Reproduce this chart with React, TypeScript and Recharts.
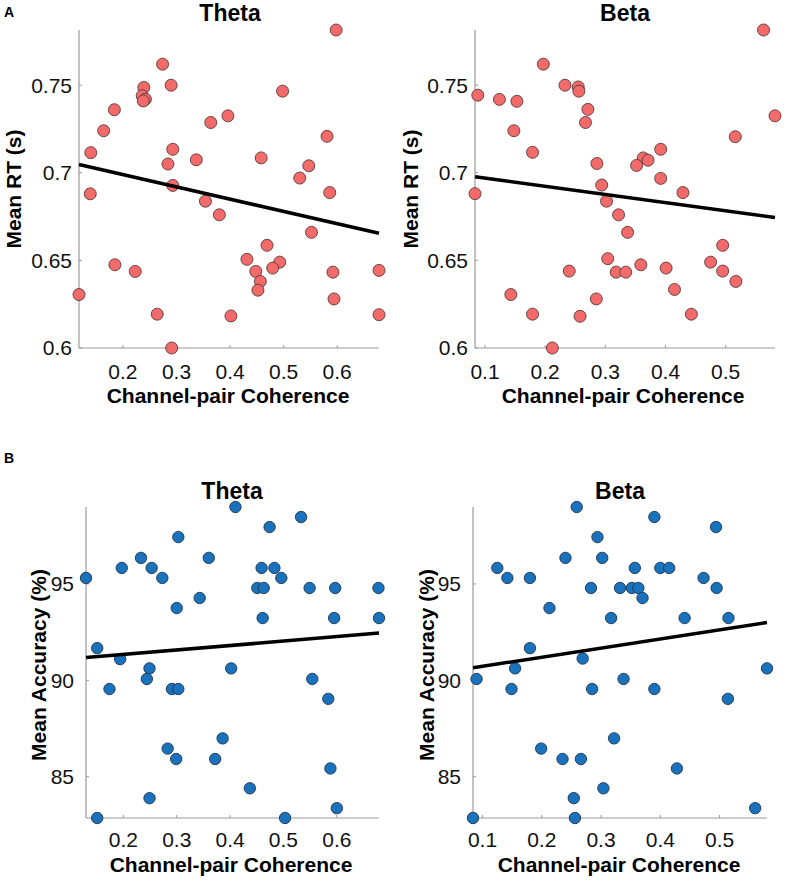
import { Scatter, ScatterChart, XAxis, YAxis } from "recharts"

const FONT = "'Liberation Sans', Arial, Helvetica, sans-serif"

// A: reaction time vs coherence
const rtThetaX = [
  0.598, 0.274, 0.239, 0.29, 0.236, 0.242, 0.238, 0.184, 0.164, 0.14, 0.139, 0.498, 0.364, 0.396,
  0.293, 0.284, 0.337, 0.293, 0.354, 0.38, 0.458, 0.581, 0.547, 0.53, 0.586, 0.552, 0.469, 0.4315,
  0.4927, 0.4796, 0.448, 0.4565, 0.452, 0.185, 0.223, 0.118, 0.264, 0.291, 0.4016, 0.592, 0.678,
  0.594, 0.678,
]
const rtThetaY = [
  0.7815, 0.762, 0.7487, 0.75, 0.744, 0.742, 0.741, 0.736, 0.724, 0.7115, 0.688, 0.7466, 0.7287,
  0.7325, 0.7134, 0.705, 0.7074, 0.6928, 0.6838, 0.676, 0.7085, 0.7208, 0.704, 0.697, 0.6887, 0.666,
  0.6586, 0.6506, 0.649, 0.6456, 0.6437, 0.638, 0.633, 0.6475, 0.6437, 0.6305, 0.6193, 0.6, 0.6183,
  0.6433, 0.6443, 0.628, 0.619,
]
const rtThetaFitX = [0.118, 0.678]
const rtThetaFitY = [0.7047, 0.6655]

const rtBetaX = [
  0.563, 0.197, 0.233, 0.255, 0.256, 0.088, 0.124, 0.153, 0.271, 0.267, 0.148, 0.179, 0.582, 0.516,
  0.392, 0.286, 0.363, 0.371, 0.352, 0.392, 0.294, 0.429, 0.0834, 0.302, 0.322, 0.337, 0.495, 0.304,
  0.475, 0.359, 0.401, 0.495, 0.318, 0.334, 0.24, 0.517, 0.415, 0.143, 0.285, 0.179, 0.258, 0.443,
  0.212,
]
const rtBetaY = [
  0.7815, 0.762, 0.75, 0.749, 0.7466, 0.7443, 0.7419, 0.7408, 0.7362, 0.7287, 0.724, 0.7117, 0.7325,
  0.7206, 0.7134, 0.7053, 0.7085, 0.7072, 0.7042, 0.6968, 0.693, 0.6887, 0.6881, 0.6838, 0.676,
  0.666, 0.6586, 0.651, 0.649, 0.6475, 0.6456, 0.6439, 0.6433, 0.6433, 0.6439, 0.638, 0.6334,
  0.6305, 0.628, 0.6193, 0.6181, 0.6193, 0.6,
]
const rtBetaFitX = [0.0834, 0.582]
const rtBetaFitY = [0.6977, 0.6745]

// B: accuracy vs coherence
const accThetaX = [
  0.41, 0.533, 0.474, 0.303, 0.233, 0.36, 0.197, 0.253, 0.459, 0.483, 0.273, 0.496, 0.13, 0.451,
  0.463, 0.549, 0.597, 0.678, 0.343, 0.3, 0.461, 0.595, 0.679, 0.151, 0.194, 0.249, 0.244, 0.174,
  0.291, 0.303, 0.402, 0.554, 0.584, 0.386, 0.283, 0.299, 0.372, 0.588, 0.437, 0.249, 0.6, 0.151,
  0.503,
]
const accThetaY = [
  98.99, 98.47, 97.95, 97.43, 96.35, 96.35, 95.83, 95.83, 95.83, 95.83, 95.31, 95.31, 95.31, 94.79,
  94.79, 94.79, 94.79, 94.79, 94.27, 93.75, 93.23, 93.23, 93.23, 91.67, 91.1, 90.62, 90.07, 89.55,
  89.55, 89.55, 90.62, 90.07, 89.04, 86.99, 86.46, 85.92, 85.92, 85.43, 84.4, 83.89, 83.37, 82.86,
  82.86,
]
const accThetaFitX = [0.13, 0.679]
const accThetaFitY = [91.18, 92.45]

const accBetaX = [
  0.259, 0.39, 0.494, 0.294, 0.24, 0.302, 0.125, 0.357, 0.4, 0.415, 0.142, 0.18, 0.473, 0.283, 0.332,
  0.352, 0.363, 0.495, 0.37, 0.213, 0.317, 0.441, 0.515, 0.18, 0.269, 0.155, 0.09, 0.338, 0.58,
  0.149, 0.285, 0.39, 0.514, 0.322, 0.199, 0.235, 0.266, 0.428, 0.304, 0.254, 0.56, 0.084, 0.256,
]
const accBetaY = [
  98.99, 98.47, 97.95, 97.43, 96.35, 96.35, 95.83, 95.83, 95.83, 95.83, 95.31, 95.31, 95.31, 94.79,
  94.79, 94.79, 94.79, 94.79, 94.27, 93.75, 93.23, 93.23, 93.23, 91.67, 91.13, 90.62, 90.07, 90.07,
  90.62, 89.55, 89.55, 89.55, 89.04, 86.99, 86.46, 85.92, 85.92, 85.43, 84.4, 83.89, 83.37, 82.86,
  82.86,
]
const accBetaFitX = [0.084, 0.58]
const accBetaFitY = [90.65, 93.0]

const thetaTicks = [0.2, 0.3, 0.4, 0.5, 0.6]
const betaTicks = [0.1, 0.2, 0.3, 0.4, 0.5]
const rtTicks = [0.6, 0.65, 0.7, 0.75]
const accTicks = [85, 90, 95]

const RED = "#f26a6a"
const BLUE = "#1a72bd"

type PanelProps = {
  left: number
  top: number
  width: number
  height: number
  margin: { top: number; right: number; bottom: number; left: number }
  yWidth: number
  xHeight: number
  xs: number[]
  ys: number[]
  fitX: number[]
  fitY: number[]
  xTicks: number[]
  yTicks: number[]
  color: string
  edge: string
  r: number
  xTickMargin: number
  yTickMargin: number
}

function Panel(p: PanelProps) {
  const pts = p.xs.map((x, i) => ({ x, y: p.ys[i] }))
  const fit = p.fitX.map((x, i) => ({ x, y: p.fitY[i] }))
  const tick = { fontSize: 21, fill: "#111", fontFamily: FONT }
  return (
    <div style={{ position: "absolute", left: p.left, top: p.top }}>
      <ScatterChart width={p.width} height={p.height} margin={p.margin}>
        <XAxis
          type="number"
          dataKey="x"
          domain={[Math.min(...p.xs), Math.max(...p.xs)]}
          ticks={p.xTicks}
          height={p.xHeight}
          tick={tick}
          tickSize={-3}
          tickMargin={p.xTickMargin}
          stroke="#9a9a9a"
          axisLine={{ stroke: "#9a9a9a", strokeWidth: 1.2 }}
          tickLine={{ stroke: "#9a9a9a" }}
        />
        <YAxis
          type="number"
          dataKey="y"
          domain={[Math.min(...p.ys), Math.max(...p.ys)]}
          ticks={p.yTicks}
          width={p.yWidth}
          tick={tick}
          tickSize={-3}
          tickMargin={p.yTickMargin}
          stroke="#9a9a9a"
          axisLine={{ stroke: "#9a9a9a", strokeWidth: 1.2 }}
          tickLine={{ stroke: "#9a9a9a" }}
        />
        <Scatter
          data={pts}
          isAnimationActive={false}
          shape={(s: any) => (
            <circle cx={s.cx} cy={s.cy} r={p.r} fill={p.color} stroke={p.edge} strokeWidth={0.9} />
          )}
        />
        <Scatter
          data={fit}
          isAnimationActive={false}
          line={{ stroke: "#000", strokeWidth: 3.5 }}
          shape={() => <g />}
        />
      </ScatterChart>
    </div>
  )
}

function Txt({
  x,
  y,
  size,
  children,
  rotate,
  bold = true,
}: {
  x: number
  y: number
  size: number
  children: string
  rotate?: boolean
  bold?: boolean
}) {
  return (
    <div
      style={{
        position: "absolute",
        left: x,
        top: y,
        transform: `translate(-50%, -50%)${rotate ? " rotate(-90deg)" : ""}`,
        whiteSpace: "nowrap",
        fontFamily: FONT,
        fontWeight: bold ? 700 : 400,
        fontSize: size,
        lineHeight: 1,
        color: "#000",
      }}
    >
      {children}
    </div>
  )
}

export default function App() {
  return (
    <div
      style={{ position: "absolute", left: 0, top: 0, width: 785, height: 882, background: "#fff" }}
    >
      <Panel
        left={0}
        top={0}
        width={392}
        height={390}
        margin={{ top: 30, right: 13, bottom: 0, left: 0 }}
        yWidth={79}
        xHeight={42}
        xs={rtThetaX}
        ys={rtThetaY}
        fitX={rtThetaFitX}
        fitY={rtThetaFitY}
        xTicks={thetaTicks}
        yTicks={rtTicks}
        color={RED}
        edge="#5a3a3a"
        r={6}
        xTickMargin={19}
        yTickMargin={10}
      />
      <Panel
        left={392}
        top={0}
        width={393}
        height={390}
        margin={{ top: 30, right: 10, bottom: 0, left: 0 }}
        yWidth={83}
        xHeight={42}
        xs={rtBetaX}
        ys={rtBetaY}
        fitX={rtBetaFitX}
        fitY={rtBetaFitY}
        xTicks={betaTicks}
        yTicks={rtTicks}
        color={RED}
        edge="#5a3a3a"
        r={6}
        xTickMargin={19}
        yTickMargin={10}
      />
      <Panel
        left={0}
        top={460}
        width={392}
        height={398}
        margin={{ top: 47, right: 13, bottom: 0, left: 0 }}
        yWidth={86}
        xHeight={40}
        xs={accThetaX}
        ys={accThetaY}
        fitX={accThetaFitX}
        fitY={accThetaFitY}
        xTicks={thetaTicks}
        yTicks={accTicks}
        color={BLUE}
        edge="#1d3550"
        r={5.7}
        xTickMargin={17}
        yTickMargin={15}
      />
      <Panel
        left={392}
        top={460}
        width={393}
        height={398}
        margin={{ top: 47, right: 18, bottom: 0, left: 0 }}
        yWidth={81}
        xHeight={40}
        xs={accBetaX}
        ys={accBetaY}
        fitX={accBetaFitX}
        fitY={accBetaFitY}
        xTicks={betaTicks}
        yTicks={accTicks}
        color={BLUE}
        edge="#1d3550"
        r={5.7}
        xTickMargin={17}
        yTickMargin={15}
      />

      <Txt x={9} y={12} size={14}>A</Txt>
      <Txt x={9} y={458} size={14}>B</Txt>

      <Txt x={230} y={13} size={23}>Theta</Txt>
      <Txt x={625} y={13} size={23}>Beta</Txt>
      <Txt x={232} y={491} size={23}>Theta</Txt>
      <Txt x={620} y={491} size={23}>Beta</Txt>

      <Txt x={228} y={395} size={21}>Channel-pair Coherence</Txt>
      <Txt x={623} y={395} size={21}>Channel-pair Coherence</Txt>
      <Txt x={231} y={864} size={21}>Channel-pair Coherence</Txt>
      <Txt x={619} y={864} size={21}>Channel-pair Coherence</Txt>

      <Txt x={13} y={189} size={21} rotate>Mean RT (s)</Txt>
      <Txt x={410} y={189} size={21} rotate>Mean RT (s)</Txt>
      <Txt x={38} y={665} size={21} rotate>Mean Accuracy (%)</Txt>
      <Txt x={426} y={665} size={21} rotate>Mean Accuracy (%)</Txt>
    </div>
  )
}
